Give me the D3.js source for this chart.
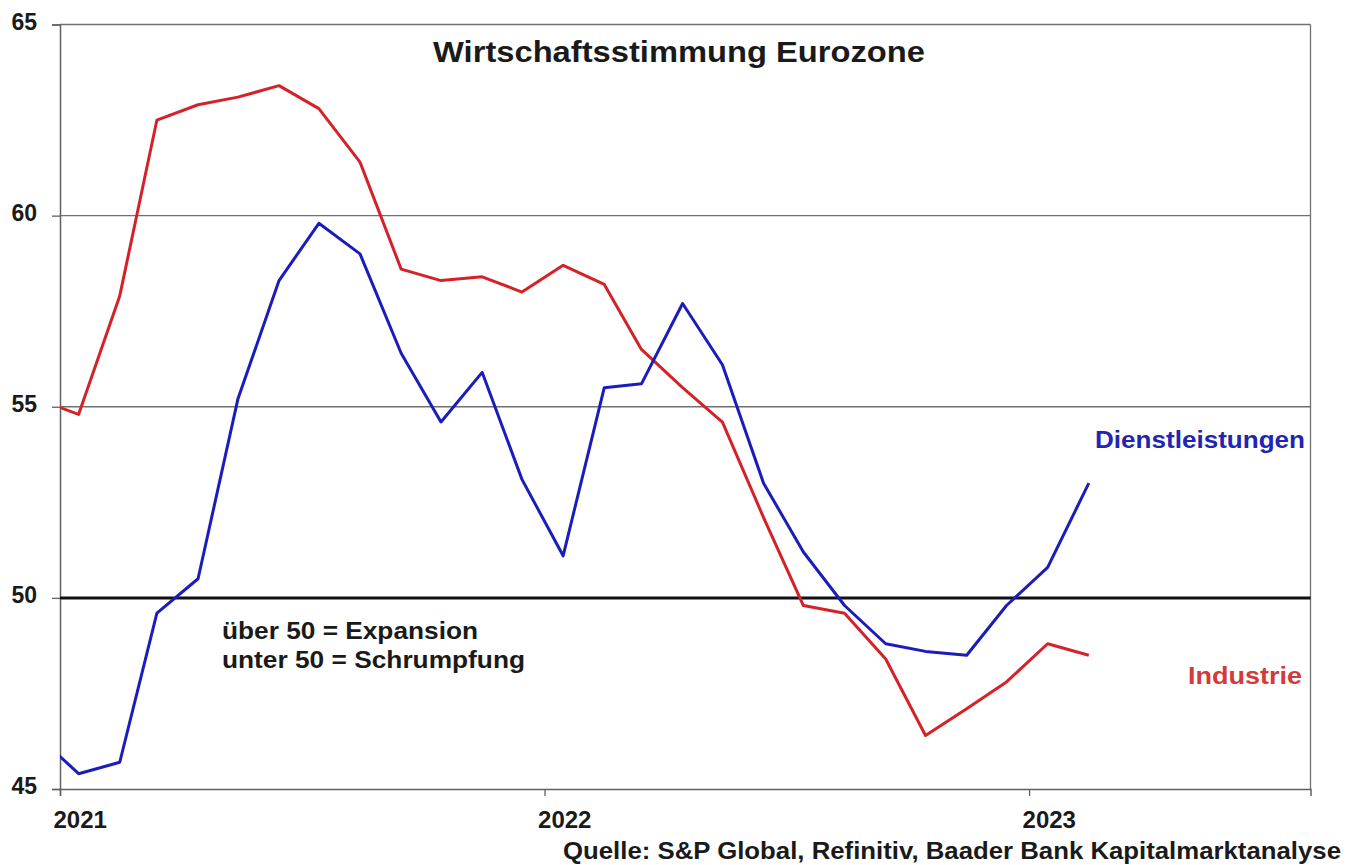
<!DOCTYPE html>
<html>
<head>
<meta charset="utf-8">
<script src="https://cdn.jsdelivr.net/npm/d3@7"></script>
<style>
  html, body { margin: 0; padding: 0; background: #fff; }
  svg { display: block; font-family: "Liberation Sans", Arial, sans-serif; }
</style>
</head>
<body>
<svg id="chart" width="1361" height="865"></svg>
<script>
// Monthly purchasing managers' indices, Eurozone (mid-month points)
const months = [
  "2020-12", "2021-01", "2021-02", "2021-03", "2021-04", "2021-05", "2021-06",
  "2021-07", "2021-08", "2021-09", "2021-10", "2021-11", "2021-12",
  "2022-01", "2022-02", "2022-03", "2022-04", "2022-05", "2022-06",
  "2022-07", "2022-08", "2022-09", "2022-10", "2022-11", "2022-12",
  "2023-01", "2023-02"
];
const industrie = [
  55.2, 54.8, 57.9, 62.5, 62.9, 63.1, 63.4,
  62.8, 61.4, 58.6, 58.3, 58.4, 58.0,
  58.7, 58.2, 56.5, 55.5, 54.6, 52.1,
  49.8, 49.6, 48.4, 46.4, 47.1, 47.8,
  48.8, 48.5
];
const dienstleistungen = [
  46.4, 45.4, 45.7, 49.6, 50.5, 55.2, 58.3,
  59.8, 59.0, 56.4, 54.6, 55.9, 53.1,
  51.1, 55.5, 55.6, 57.7, 56.1, 53.0,
  51.2, 49.8, 48.8, 48.6, 48.5, 49.8,
  50.8, 53.0
];
const yTicks = [45, 50, 55, 60, 65];
const xTickYears = ["2021", "2022", "2023"];

const svg = d3.select("#chart");
const margin = { left: 60, top: 24.5, right: 1310.5, bottom: 789 };
const ink = "#1a1a1a";

const parseMonth = d3.timeParse("%Y-%m");
const midMonth = s => { const d = parseMonth(s); d.setDate(15); return d; };
const dates = months.map(midMonth);

const x = d3.scaleTime()
  .domain([new Date(2021, 0, 1), new Date(2023, 7, 1)])
  .range([margin.left, margin.right]);
const y = d3.scaleLinear()
  .domain([45, 65])
  .range([margin.bottom, margin.top]);

svg.append("defs").append("clipPath").attr("id", "plotClip")
  .append("rect")
  .attr("x", margin.left).attr("y", margin.top)
  .attr("width", margin.right - margin.left)
  .attr("height", margin.bottom - margin.top);

// Horizontal grid lines
svg.append("g").selectAll("line")
  .data(yTicks.filter(v => v !== 50 && v !== 45))
  .join("line")
  .attr("x1", margin.left).attr("x2", margin.right)
  .attr("y1", d => y(d)).attr("y2", d => y(d))
  .attr("stroke", "#707070").attr("stroke-width", 1.3);

// Plot frame (right edge)
svg.append("line")
  .attr("x1", margin.right).attr("x2", margin.right)
  .attr("y1", margin.top).attr("y2", margin.bottom)
  .attr("stroke", "#707070").attr("stroke-width", 1.3);

// Y axis
const yAxis = svg.append("g")
  .attr("transform", `translate(${margin.left},0)`)
  .call(d3.axisLeft(y).tickValues(yTicks).tickSize(8).tickPadding(15).tickFormat(d3.format("d")));
yAxis.select(".domain").attr("stroke", "#606060").attr("stroke-width", 1.5);
yAxis.selectAll(".tick line").attr("stroke", "#606060").attr("stroke-width", 1.3);
yAxis.selectAll(".tick text")
  .attr("font-size", 23).attr("font-weight", "bold").attr("fill", ink)
  .attr("dy", "0.2em")
  .attr("font-family", "Liberation Sans, Arial, sans-serif");

// X axis
const yearDates = xTickYears.map(s => new Date(+s, 0, 1));
const xAxis = svg.append("g")
  .attr("transform", `translate(0,${margin.bottom})`)
  .call(d3.axisBottom(x).tickValues(yearDates).tickSize(7).tickPadding(0).tickFormat(d3.timeFormat("%Y")));
xAxis.select(".domain").attr("stroke", "#606060").attr("stroke-width", 1.5);
xAxis.selectAll(".tick line").attr("stroke", "#606060").attr("stroke-width", 1.3);
xAxis.selectAll(".tick text")
  .attr("font-size", 24).attr("font-weight", "bold").attr("fill", ink)
  .attr("text-anchor", "start")
  .attr("x", -7).attr("y", 39).attr("dy", null)
  .attr("font-family", "Liberation Sans, Arial, sans-serif");

// 50 threshold line
svg.append("line")
  .attr("x1", margin.left).attr("x2", margin.right)
  .attr("y1", y(50)).attr("y2", y(50))
  .attr("stroke", "#111").attr("stroke-width", 3);

// Series lines
const line = d3.line()
  .x((d, i) => x(dates[i]))
  .y(d => y(d));

const plot = svg.append("g").attr("clip-path", "url(#plotClip)");
plot.append("path")
  .datum(industrie)
  .attr("d", line)
  .attr("fill", "none")
  .attr("stroke", "#d42228")
  .attr("stroke-width", 3)
  .attr("stroke-linejoin", "round");
plot.append("path")
  .datum(dienstleistungen)
  .attr("d", line)
  .attr("fill", "none")
  .attr("stroke", "#1c1cbc")
  .attr("stroke-width", 3)
  .attr("stroke-linejoin", "round");

// Text helper: bold label stretched to a given width
function label(xPos, yPos, str, size, width, fill) {
  return svg.append("text")
    .attr("x", xPos).attr("y", yPos)
    .attr("font-size", size).attr("font-weight", "bold").attr("fill", fill || ink)
    .attr("textLength", width).attr("lengthAdjust", "spacingAndGlyphs")
    .text(str);
}

// Title
label(433, 62, "Wirtschaftsstimmung Eurozone", 29, 492);

// Series labels
label(1095, 448, "Dienstleistungen", 23, 210, "#2424b4");
label(1188, 684, "Industrie", 24, 114, "#d43a3a");

// Threshold note
label(222, 639, "über 50 = Expansion", 24, 256);
label(222, 668, "unter 50 = Schrumpfung", 24, 303);

// Source
label(563, 859, "Quelle: S&P Global, Refinitiv, Baader Bank Kapitalmarktanalyse", 24, 778);
</script>
</body>
</html>
